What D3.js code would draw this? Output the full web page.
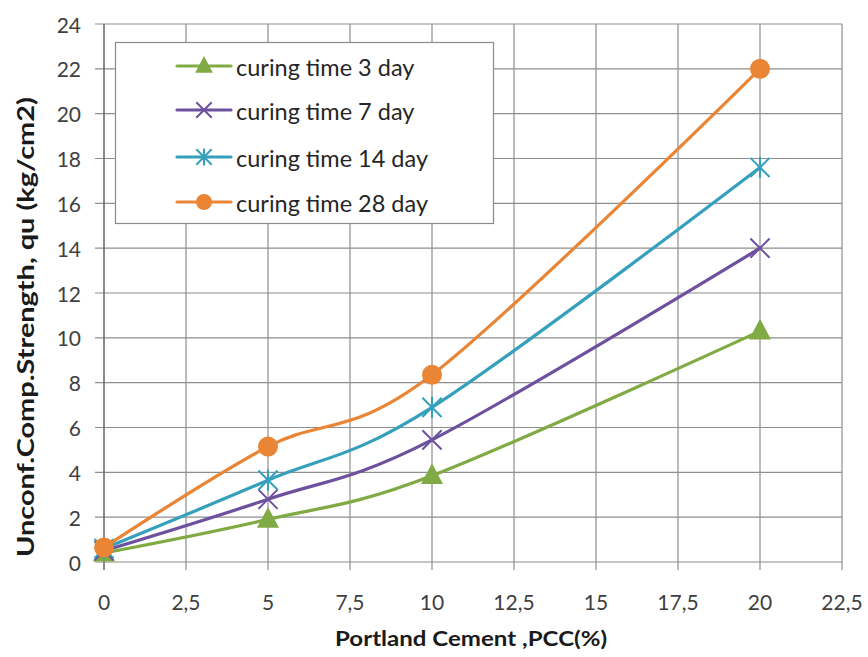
<!DOCTYPE html>
<html>
<head>
<meta charset="utf-8">
<script src="https://cdn.jsdelivr.net/npm/d3@7/dist/d3.min.js"></script>
<style>
  html, body { margin: 0; padding: 0; background: #ffffff; }
  svg { display: block; }
</style>
</head>
<body>
<svg id="chart" width="868" height="657"></svg>
<script>
// Cement content (%) on the x axis
const pcc = [0, 5, 10, 20];

// Unconfined compressive strength qu (kg/cm2) by curing time
const day3  = [0.4, 1.9, 3.85, 10.3];
const day7  = [0.5, 2.8, 5.45, 14.0];
const day14 = [0.6, 3.65, 6.9, 17.6];
const day28 = [0.65, 5.15, 8.35, 22.0];

const seriesNames = ["curing time 3 day", "curing time 7 day", "curing time 14 day", "curing time 28 day"];
const seriesColors = ["#80aa43", "#6d509e", "#35a0bc", "#ea8535"];
const seriesMarkers = ["triangle", "cross", "star", "circle"];

const xTicks = [0, 2.5, 5, 7.5, 10, 12.5, 15, 17.5, 20, 22.5];
const yTicks = [0, 2, 4, 6, 8, 10, 12, 14, 16, 18, 20, 22, 24];

const xTitle = "Portland Cement ,PCC(%)";
const yTitle = "Unconf.Comp.Strength, qu (kg/cm2)";

const series = [day3, day7, day14, day28].map((vals, i) => ({
  name: seriesNames[i],
  color: seriesColors[i],
  marker: seriesMarkers[i],
  points: vals.map((v, j) => ({ x: pcc[j], y: v }))
}));

const svg = d3.select("#chart");
const FONT = "Lato, 'Open Sans', sans-serif";

const plot = { left: 104, right: 842, top: 24, bottom: 562 };
const x = d3.scaleLinear().domain([0, 22.5]).range([plot.left, plot.right]);
const y = d3.scaleLinear().domain([0, 24]).range([plot.bottom, plot.top]);

// Gridlines
const grid = svg.append("g");
grid.selectAll("line.h").data(yTicks).join("line")
  .attr("x1", plot.left - 9).attr("x2", plot.right)
  .attr("y1", d => y(d)).attr("y2", d => y(d))
  .attr("stroke", "#8e8e8e").attr("stroke-width", 1.2);
grid.selectAll("line.v").data(xTicks).join("line")
  .attr("x1", d => x(d)).attr("x2", d => x(d))
  .attr("y1", plot.top).attr("y2", plot.bottom + 8)
  .attr("stroke", d => d === 0 ? "#6e6e6e" : "#8e8e8e")
  .attr("stroke-width", d => d === 0 ? 1.6 : 1.2);

// Tick labels
const fmt = d => String(d).replace(".", ",");
svg.append("g").selectAll("text").data(yTicks).join("text")
  .attr("x", 81).attr("y", d => y(d))
  .attr("text-anchor", "end").attr("dominant-baseline", "central")
  .attr("font-family", FONT).attr("font-size", 21).attr("fill", "#404040")
  .text(d => d);
svg.append("g").selectAll("text").data(xTicks).join("text")
  .attr("x", d => x(d)).attr("y", 601)
  .attr("text-anchor", "middle").attr("dominant-baseline", "central")
  .attr("font-family", FONT).attr("font-size", 21).attr("fill", "#404040")
  .text(fmt);

// Axis titles
svg.append("text")
  .attr("x", 471).attr("y", 638)
  .attr("text-anchor", "middle").attr("dominant-baseline", "central")
  .attr("font-family", FONT).attr("font-size", 20).attr("font-weight", "bold").attr("fill", "#1a1a1a")
  .attr("textLength", 272).attr("lengthAdjust", "spacingAndGlyphs")
  .text(xTitle);
svg.append("text")
  .attr("transform", "translate(25,327) rotate(-90)")
  .attr("text-anchor", "middle").attr("dominant-baseline", "central")
  .attr("font-family", FONT).attr("font-size", 23).attr("font-weight", "bold").attr("fill", "#1a1a1a")
  .attr("textLength", 460).attr("lengthAdjust", "spacingAndGlyphs")
  .text(yTitle);

// Marker shapes
function drawMarker(g, type, color, size) {
  const s = size;
  if (type === "triangle") {
    g.append("path")
      .attr("d", `M0,${-s * 0.62} L${s * 0.55},${s * 0.42} L${-s * 0.55},${s * 0.42} Z`)
      .attr("fill", color);
  } else if (type === "circle") {
    g.append("circle").attr("r", s * 0.5).attr("fill", color);
  } else if (type === "cross") {
    const h = s * 0.48;
    g.append("path").attr("d", `M${-h},${-h} L${h},${h} M${-h},${h} L${h},${-h}`)
      .attr("stroke", color).attr("stroke-width", 2).attr("fill", "none");
  } else if (type === "star") {
    const h = s * 0.48;
    g.append("path").attr("d", `M${-h},${-h} L${h},${h} M${-h},${h} L${h},${-h} M0,${-h * 1.1} L0,${h * 1.1}`)
      .attr("stroke", color).attr("stroke-width", 2).attr("fill", "none");
  }
}

// Series lines (smoothed) and markers
const line = d3.line()
  .x(d => x(d.x)).y(d => y(d.y))
  .curve(d3.curveCatmullRom.alpha(0));

series.forEach(s => {
  const g = svg.append("g");
  g.append("path").datum(s.points)
    .attr("d", line)
    .attr("fill", "none").attr("stroke", s.color).attr("stroke-width", 3.2)
    .attr("stroke-linejoin", "round").attr("stroke-linecap", "round");
  s.points.forEach(p => {
    const m = g.append("g").attr("transform", `translate(${x(p.x)},${y(p.y)})`);
    drawMarker(m, s.marker, s.color, 20);
  });
});

// Legend
const legend = svg.append("g");
legend.append("rect")
  .attr("x", 115.5).attr("y", 42.5).attr("width", 378).attr("height", 181)
  .attr("fill", "#ffffff").attr("stroke", "#8a8a8a").attr("stroke-width", 1.2);
const rowY = [66, 110, 157, 202];
series.forEach((s, i) => {
  const row = legend.append("g").attr("transform", `translate(0,${rowY[i]})`);
  row.append("line").attr("x1", 177).attr("x2", 231).attr("y1", 0).attr("y2", 0)
    .attr("stroke", s.color).attr("stroke-width", 3.2).attr("stroke-linecap", "round");
  const m = row.append("g").attr("transform", "translate(204,0)");
  drawMarker(m, s.marker, s.color, 16);
  row.append("text").attr("x", 236).attr("y", 1)
    .attr("dominant-baseline", "central")
    .attr("font-family", FONT).attr("font-size", 23.5).attr("fill", "#262626")
    .text(s.name);
});
</script>
</body>
</html>
